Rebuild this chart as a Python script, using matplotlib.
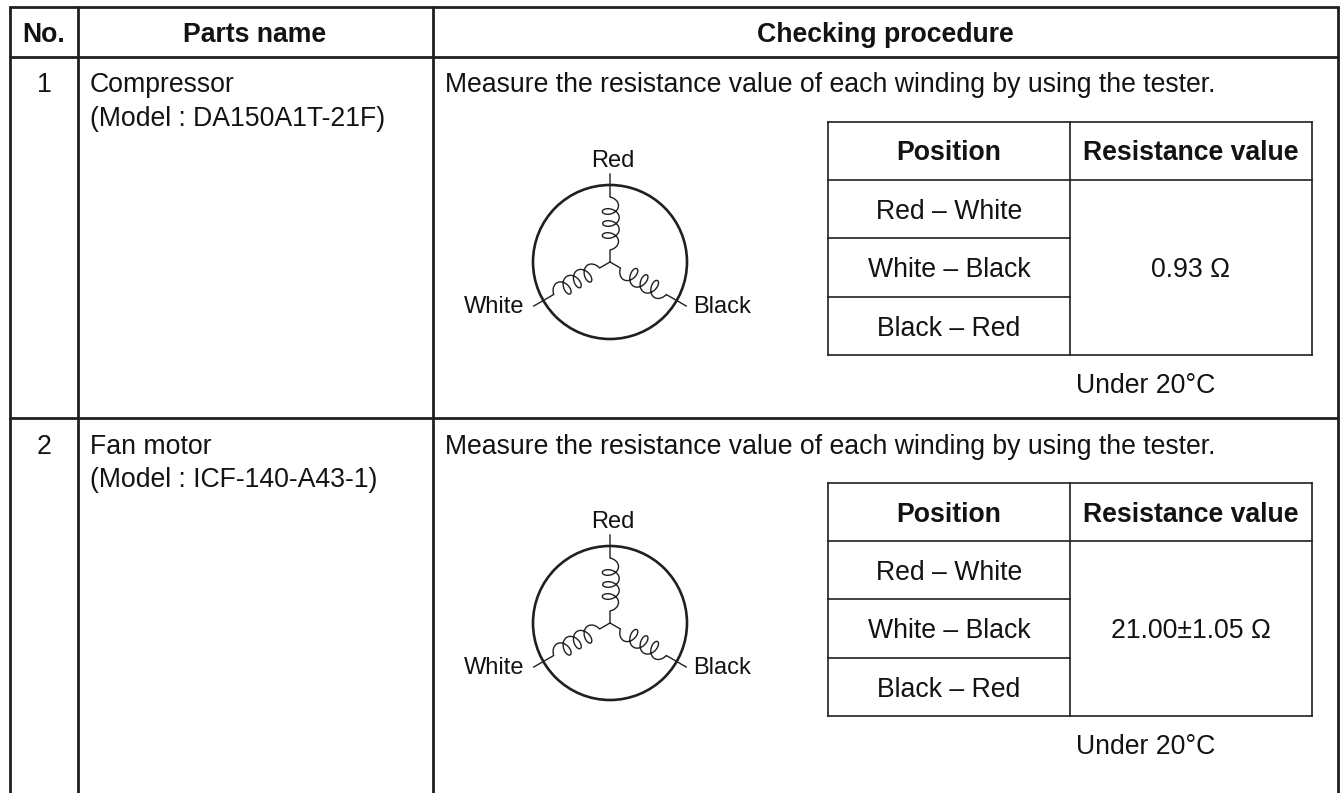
"""Parts checking table with three-phase winding diagrams."""

import matplotlib
matplotlib.use("Agg")
import matplotlib.pyplot as plt
import numpy as np
from matplotlib.patches import Circle

plt.rcParams.update({
    "font.family": ["Liberation Sans", "DejaVu Sans"],
    "font.size": 19.2,
    "text.color": "#141213",
})

INK = "#231f20"

# -------- Table content --------
headers = ["No.", "Parts name", "Checking procedure"]
part_numbers = ["1", "2"]
part_names = ["Compressor", "Fan motor"]
part_models = ["(Model : DA150A1T-21F)", "(Model : ICF-140-A43-1)"]
procedure = "Measure the resistance value of each winding by using the tester."
inner_headers = ["Position", "Resistance value"]
positions = ["Red – White", "White – Black", "Black – Red"]
resistances = ["0.93 Ω", "21.00±1.05 Ω"]
note = "Under 20°C"
winding_labels = ["Red", "Black", "White"]


def draw_winding(ax, cx, cy, angle):
    """One winding arm: wire, coil, wire. Angle is clockwise from straight up."""
    theta = np.linspace(0, 7 * np.pi, 500)
    pitch = 42.0
    b = 5.5
    along = pitch * theta / theta[-1] + b * (1 - np.cos(theta))
    perp = 8.3 * np.sin(theta) + 1.0 * np.sin(theta / 7)
    # coil runs from r=12 to r=65 out of the star point, then wire to r=88
    r = np.r_[0, 12 + along, 88]
    n = np.r_[0, perp, 0]
    a = np.radians(angle)
    x = cx + r * np.sin(a) + n * np.cos(a)
    y = cy - r * np.cos(a) + n * np.sin(a)
    ax.plot(x, y, color=INK, lw=1.0, solid_joinstyle="round", zorder=3)


def draw_motor(ax, cx, cy):
    ax.add_patch(Circle((cx, cy), 77, fill=False, ec=INK, lw=1.9, zorder=3))
    for angle in (0, 120, 240):
        draw_winding(ax, cx, cy, angle)
    ax.text(cx + 2.6, cy - 95, winding_labels[0], ha="center", va="baseline", fontsize=17)
    ax.text(cx + 112, cy + 51, winding_labels[1], ha="center", va="baseline", fontsize=17)
    ax.text(cx - 116, cy + 51, winding_labels[2], ha="center", va="baseline", fontsize=17)


def draw_inner_table(ax, top, value):
    xs = [828, 1070, 1312]
    ys = [top, top + 58, top + 116, top + 175, top + 233]
    lw = 1.2
    ax.plot([xs[0], xs[2]], [ys[0], ys[0]], color=INK, lw=lw)
    ax.plot([xs[0], xs[2]], [ys[1], ys[1]], color=INK, lw=lw)
    ax.plot([xs[0], xs[1]], [ys[2], ys[2]], color=INK, lw=lw)
    ax.plot([xs[0], xs[1]], [ys[3], ys[3]], color=INK, lw=lw)
    ax.plot([xs[0], xs[2]], [ys[4], ys[4]], color=INK, lw=lw)
    for x in xs:
        ax.plot([x, x], [ys[0], ys[4]], color=INK, lw=lw)

    ax.text((xs[0] + xs[1]) / 2, top + 38.5, inner_headers[0], ha="center", va="baseline",
            fontweight="bold")
    ax.text((xs[1] + xs[2]) / 2, top + 38.5, inner_headers[1], ha="center", va="baseline",
            fontweight="bold")
    for i, label in enumerate(positions):
        ax.text((xs[0] + xs[1]) / 2, ys[i + 1] + 38.7, label, ha="center", va="baseline")
    ax.text((xs[1] + xs[2]) / 2, top + 155, value, ha="center", va="baseline")
    ax.text(1146, top + 271, note, ha="center", va="baseline")


fig = plt.figure(figsize=(13.41, 7.93), dpi=100)
ax = fig.add_axes([0, 0, 1, 1])
ax.set_xlim(0, 1341)
ax.set_ylim(793, 0)
ax.axis("off")

# Outer grid, open at the bottom because the table carries on
for x in (10, 78, 433, 1338):
    ax.plot([x, x], [6, 793], color=INK, lw=2.0, solid_capstyle="butt")
for y in (6.5, 57, 418):
    ax.plot([9, 1339], [y, y], color=INK, lw=2.0, solid_capstyle="butt")

ax.text(44, 42, headers[0], ha="center", va="baseline", fontweight="bold")
ax.text(255, 42, headers[1], ha="center", va="baseline", fontweight="bold")
ax.text(885, 42, headers[2], ha="center", va="baseline", fontweight="bold")

row_offsets = [0, 361]
for i, dy in enumerate(row_offsets):
    ax.text(44, 92.5 + dy, part_numbers[i], ha="center", va="baseline")
    ax.text(90, 92.5 + dy, part_names[i], ha="left", va="baseline")
    ax.text(90, 126 + dy, part_models[i], ha="left", va="baseline")
    ax.text(445, 92.5 + dy, procedure, ha="left", va="baseline")
    draw_motor(ax, 610, 262 + dy)
    draw_inner_table(ax, 122 + dy, resistances[i])

fig.savefig("out.png", dpi=100)
plt.close(fig)
